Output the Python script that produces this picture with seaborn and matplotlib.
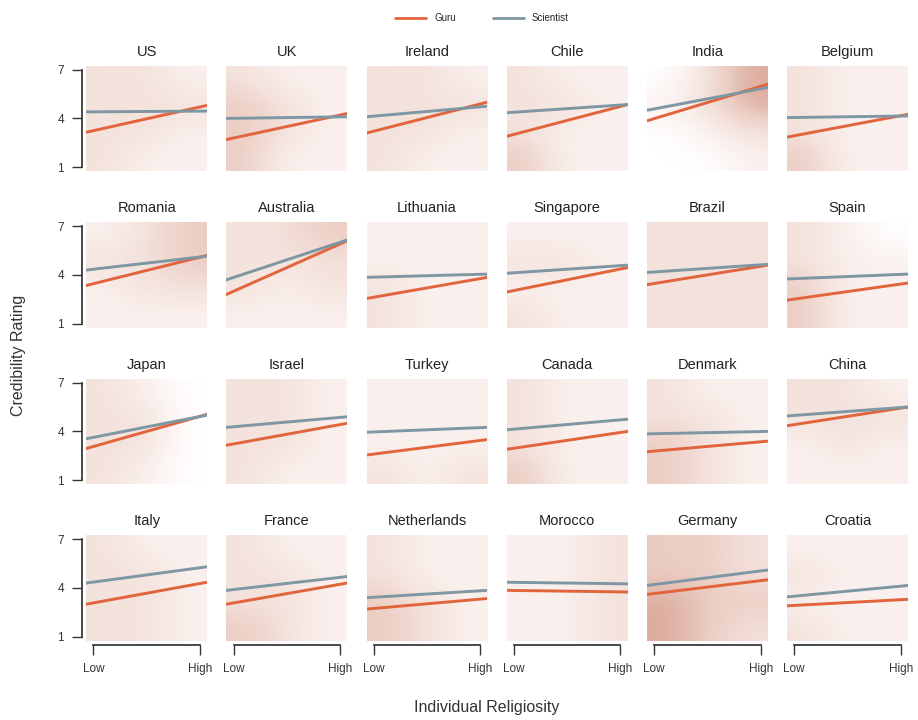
import numpy as np
import pandas as pd
import matplotlib.pyplot as plt
import seaborn as sns
from matplotlib.colors import LinearSegmentedColormap
from matplotlib.lines import Line2D

# countries in panel order (4 rows x 6 cols)
countries = ['US', 'UK', 'Ireland', 'Chile', 'India', 'Belgium',
             'Romania', 'Australia', 'Lithuania', 'Singapore', 'Brazil', 'Spain',
             'Japan', 'Israel', 'Turkey', 'Canada', 'Denmark', 'China',
             'Italy', 'France', 'Netherlands', 'Morocco', 'Germany', 'Croatia']

# fitted credibility at the low / high end of religiosity
guru_low = [3.15, 2.70, 3.10, 2.90, 3.85, 2.85,
            3.35, 2.80, 2.55, 2.95, 3.40, 2.45,
            2.95, 3.15, 2.55, 2.90, 2.75, 4.35,
            3.00, 3.00, 2.70, 3.85, 3.60, 2.90]
guru_high = [4.80, 4.30, 5.00, 4.85, 6.10, 4.25,
             5.20, 6.10, 3.85, 4.45, 4.60, 3.50,
             5.05, 4.50, 3.50, 4.00, 3.40, 5.50,
             4.35, 4.30, 3.35, 3.75, 4.50, 3.30]
sci_low = [4.40, 4.00, 4.10, 4.35, 4.50, 4.05,
           4.30, 3.70, 3.85, 4.10, 4.15, 3.75,
           3.55, 4.25, 3.95, 4.10, 3.85, 4.95,
           4.30, 3.85, 3.40, 4.35, 4.15, 3.45]
sci_high = [4.45, 4.10, 4.75, 4.85, 5.90, 4.15,
            5.15, 6.15, 4.05, 4.60, 4.65, 4.05,
            5.00, 4.90, 4.25, 4.75, 4.00, 5.50,
            5.30, 4.70, 3.85, 4.25, 5.10, 4.15]

# rough density of the raw responses per panel:
# rows = rating bands from 1 (bottom) to 7 (top), cols = low / mid / high religiosity
density = [
    [[2, 1, 1], [2, 2, 1], [2, 2, 2], [2, 2, 1]],  # US
    [[3, 1, 1], [3, 2, 1], [3, 2, 1], [2, 1, 1]],  # UK
    [[2, 1, 1], [2, 2, 1], [2, 2, 2], [2, 2, 1]],  # Ireland
    [[3, 1, 1], [2, 1, 1], [2, 2, 1], [2, 1, 1]],  # Chile
    [[0, 0, 1], [0, 1, 2], [1, 2, 4], [0, 2, 4]],  # India
    [[3, 1, 1], [2, 1, 1], [2, 1, 1], [2, 1, 1]],  # Belgium
    [[1, 1, 1], [1, 2, 2], [2, 2, 3], [1, 2, 3]],  # Romania
    [[1, 1, 1], [2, 1, 2], [2, 2, 2], [2, 2, 3]],  # Australia
    [[2, 1, 1], [2, 1, 1], [1, 1, 1], [1, 1, 1]],  # Lithuania
    [[2, 1, 1], [1, 1, 1], [2, 2, 1], [1, 1, 1]],  # Singapore
    [[2, 2, 2], [2, 2, 2], [2, 2, 2], [2, 2, 2]],  # Brazil
    [[3, 1, 1], [3, 1, 1], [2, 1, 1], [2, 1, 0]],  # Spain
    [[2, 1, 0], [2, 2, 0], [2, 2, 0], [2, 1, 0]],  # Japan
    [[2, 1, 1], [2, 2, 1], [2, 2, 1], [2, 2, 1]],  # Israel
    [[2, 1, 2], [1, 1, 1], [1, 1, 1], [1, 1, 1]],  # Turkey
    [[3, 1, 1], [2, 1, 1], [2, 1, 1], [2, 1, 1]],  # Canada
    [[3, 2, 1], [3, 2, 1], [2, 2, 1], [2, 1, 1]],  # Denmark
    [[1, 1, 1], [1, 2, 1], [2, 2, 2], [2, 2, 1]],  # China
    [[2, 2, 1], [2, 2, 1], [2, 2, 1], [2, 1, 1]],  # Italy
    [[3, 2, 1], [2, 2, 1], [2, 2, 1], [2, 1, 1]],  # France
    [[3, 2, 1], [3, 2, 1], [2, 1, 1], [2, 1, 1]],  # Netherlands
    [[1, 1, 2], [1, 1, 2], [1, 1, 2], [1, 1, 2]],  # Morocco
    [[4, 3, 2], [4, 3, 3], [3, 3, 2], [3, 3, 2]],  # Germany
    [[2, 1, 1], [1, 1, 1], [2, 1, 1], [1, 1, 1]],  # Croatia
]

x_range = [0.6, 7.4]   # religiosity span covered by the fitted lines
x_ticks = [1, 7]
x_ticklabels = ['Low', 'High']
y_ticks = [1, 4, 7]
roles = ['Guru', 'Scientist']

rows = []
for i, c in enumerate(countries):
    for role, lo, hi in [('Guru', guru_low[i], guru_high[i]),
                         ('Scientist', sci_low[i], sci_high[i])]:
        rows.append((c, role, x_range[0], lo))
        rows.append((c, role, x_range[1], hi))
df = pd.DataFrame(rows, columns=['country', 'role', 'religiosity', 'rating'])

palette = {'Guru': '#e2643c', 'Scientist': '#7f96a3'}
haze = LinearSegmentedColormap.from_list(
    'haze', ['#ffffff', '#faf1ee', '#f4e2dc', '#ebcdc3', '#dcac9e'])

sns.set_theme(style='ticks')
plt.rcParams['font.family'] = ['Liberation Sans', 'DejaVu Sans']

fig, axes = plt.subplots(4, 6, figsize=(9.18, 7.2), dpi=100, sharex=True, sharey=True)
fig.subplots_adjust(left=0.094, right=0.989, top=0.909, bottom=0.110,
                    wspace=0.16, hspace=0.48)

ylim = (0.75, 7.25)
for i, c in enumerate(countries):
    ax = axes.flat[i]
    ax.imshow(np.array(density[i]), origin='lower', aspect='auto', cmap=haze,
              vmin=0, vmax=4, interpolation='bicubic',
              extent=(x_range[0], x_range[1], ylim[0], ylim[1]), zorder=0)
    sns.lineplot(data=df[df.country == c], x='religiosity', y='rating',
                 hue='role', palette=palette, linewidth=2.1, ax=ax,
                 legend=False, zorder=3)
    ax.set_title(c, fontsize=10.5, color='#222222', pad=7)
    ax.set_xlim(x_range)
    ax.set_ylim(ylim)
    ax.set_xticks(x_ticks)
    ax.set_xticklabels(x_ticklabels)
    ax.set_yticks(y_ticks)
    ax.set_xlabel('')
    ax.set_ylabel('')
    ax.tick_params(labelsize=8.5, colors='#333333', length=7, width=1, pad=6)
    for s in ['top', 'right']:
        ax.spines[s].set_visible(False)
    for s in ['left', 'bottom']:
        ax.spines[s].set_color('#333333')
        ax.spines[s].set_position(('outward', 3))
    ax.spines['left'].set_bounds(1, 7)
    ax.spines['bottom'].set_bounds(1, 7)
    if i % 6 != 0:
        ax.spines['left'].set_visible(False)
        ax.tick_params(left=False)
    if i < 18:
        ax.spines['bottom'].set_visible(False)
        ax.tick_params(bottom=False)

fig.text(0.02, 0.507, 'Credibility Rating', rotation=90, ha='center', va='center',
         fontsize=11.5, color='#333333')
fig.text(0.53, 0.017, 'Individual Religiosity', ha='center', va='center',
         fontsize=11.5, color='#333333')

handles = [Line2D([], [], color=palette[r], lw=2) for r in roles]
fig.legend(handles, roles, loc='center', bbox_to_anchor=(0.525, 0.975), ncol=2,
           frameon=False, fontsize=7, handlelength=3.2, columnspacing=3.8)

fig.savefig('out.png', dpi=100)
